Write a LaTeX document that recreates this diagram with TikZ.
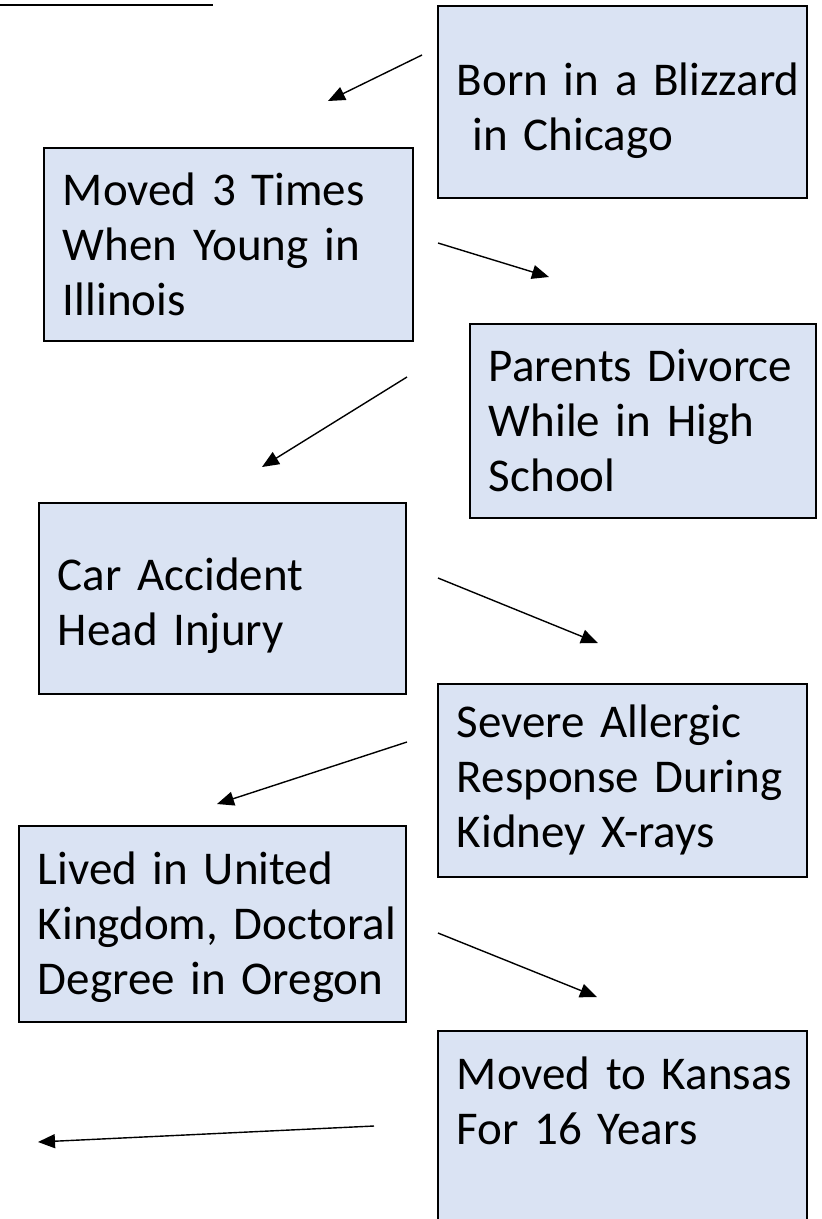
\documentclass[tikz,border=0pt]{standalone}
\usepackage{fontspec}
\setmainfont{Carlito}
\usetikzlibrary{arrows.meta}
\definecolor{boxfill}{HTML}{DAE3F3}
\newcommand{\upstrut}[1]{\rule{0pt}{#1}}
\newcommand{\downstrut}[1]{\rule[-#1]{0pt}{1pt}}
\begin{document}
\begin{tikzpicture}[x=1pt,y=-1pt,
  evbox/.style 2 args={draw=black, line width=1.8pt, fill=boxfill, rectangle,
    anchor=north west, inner xsep=19pt, inner ysep=0pt, align=left,
    minimum width=#1, text width=#1-38pt, minimum height=#2,
    font=\fontsize{47}{55}\selectfont},
  conn/.style={line width=1.4pt, -{Triangle[length=17pt,width=14pt]}}]
\useasboundingbox (0,0) rectangle (822,1219);
% top rule
\coordinate (r1) at (0,5);
\coordinate (r2) at (213,5);
\draw[line width=2.5pt] (r1) -- (r2);
% boxes
\node[evbox={369pt}{192pt}] (b1) at (437,5) {\mbox{\upstrut{50pt}Born in a Blizzard}\\\mbox{ in Chicago}};
\node[evbox={369pt}{193pt}] (b2) at (43,147) {\mbox{Moved 3 Times}\\\mbox{When Young in}\\\mbox{Illinois}};
\node[evbox={346pt}{194pt}] (b3) at (469,323) {\mbox{Parents Divorce}\\\mbox{While in High}\\\mbox{School}};
\node[evbox={367pt}{191pt}] (b4) at (38,502) {\mbox{\upstrut{47pt}Car Accident}\\\mbox{Head Injury}};
\node[evbox={369pt}{193pt}] (b5) at (437,683) {\mbox{Severe Allergic}\\\mbox{Response During}\\\mbox{Kidney X-rays}};
\node[evbox={387pt}{196pt}] (b6) at (18,825) {\mbox{\upstrut{39pt}Lived in United}\\\mbox{Kingdom, Doctoral}\\\mbox{Degree in Oregon}};
\node[evbox={369pt}{196pt}] (b7) at (437,1030) {\mbox{Moved to Kansas}\\\mbox{For 16 Years\downstrut{56pt}}};
% arrow end points
\coordinate (a1s) at (422,55);   \coordinate (a1e) at (328,101);
\coordinate (a2s) at (438,243);  \coordinate (a2e) at (549,277);
\coordinate (a3s) at (407,377);  \coordinate (a3e) at (262,467);
\coordinate (a4s) at (438,578);  \coordinate (a4e) at (598,643);
\coordinate (a5s) at (407,742);  \coordinate (a5e) at (217,804);
\coordinate (a6s) at (438,933);  \coordinate (a6e) at (597,997);
\coordinate (a7s) at (374,1126); \coordinate (a7e) at (38,1142);
\draw[conn] (a1s) -- (a1e);
\draw[conn] (a2s) -- (a2e);
\draw[conn] (a3s) -- (a3e);
\draw[conn] (a4s) -- (a4e);
\draw[conn] (a5s) -- (a5e);
\draw[conn] (a6s) -- (a6e);
\draw[conn] (a7s) -- (a7e);
\end{tikzpicture}
\end{document}
